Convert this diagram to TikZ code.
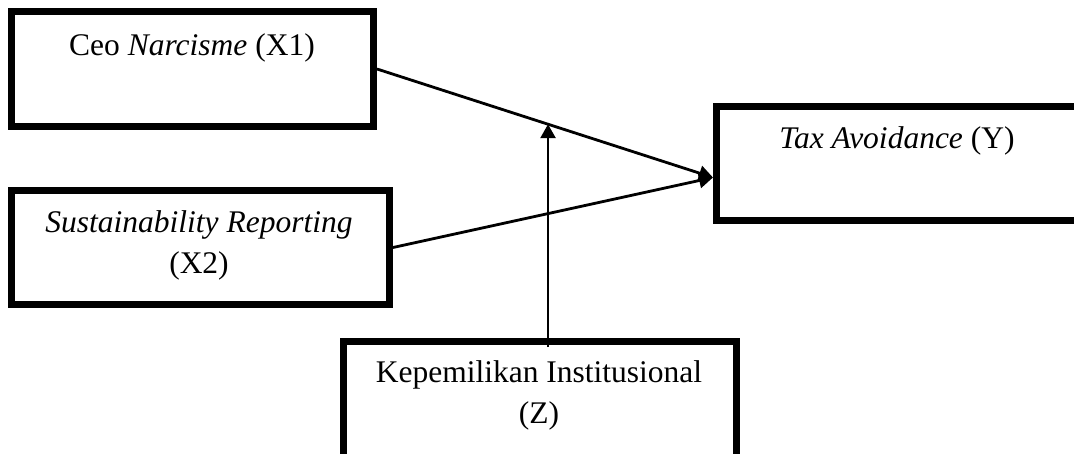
\documentclass[tikz,border=0pt]{standalone}
\usepackage{fontspec}
\setmainfont{Liberation Serif}
\usetikzlibrary{arrows.meta, positioning, calc}
\tikzstyle{box} = [draw, rectangle, line width=7pt, inner sep=0pt]
\tikzstyle{arrow} = [draw, line width=2.8pt, -{Triangle[length=14pt,width=15pt]}]
\tikzstyle{teks} = [anchor=base, align=center, font=\fontsize{31.5}{40.5}\selectfont]

\begin{document}
\begin{tikzpicture}[x=1pt,y=-1pt]
	\useasboundingbox (0,0) rectangle (1074,453);
	\clip (0,0) rectangle (1074,453);

	% Kotak variabel
	\node[box, minimum width=362pt, minimum height=115pt] (x1) at (192.5,69) {};
	\node[box, minimum width=378pt, minimum height=114pt] (x2) at (200.5,247.5) {};
	\node[box, minimum width=400pt, minimum height=114pt] (y) at (916.5,163.5) {};
	\node[box, minimum width=393pt, minimum height=160pt] (z) at (540,421.5) {};

	% Teks variabel
	\node[teks] (x1t) at (192,55) {Ceo \textit{Narcisme} (X1)};
	\node[teks] (x2t) at (199,273) {\textit{Sustainability Reporting}\\(X2)};
	\node[teks] (yt) at (897,148) {\textit{Tax Avoidance} (Y)};
	\node[teks] (zt) at (539,423) {Kepemilikan Institusional\\(Z)};

	% Panah pengaruh
	\coordinate (yin) at ([yshift=-14pt]y.west);
	\path [arrow] (x1.east) -- (yin);
	\path [arrow] (x2.east) -- (yin);

	% Panah moderasi
	\coordinate (mod) at ($(x1.east)!0.509!(yin)$);
	\coordinate (zs) at (mod |- z.north);
	\path [arrow] ([yshift=-9pt]zs) -- (mod);
\end{tikzpicture}
\end{document}
